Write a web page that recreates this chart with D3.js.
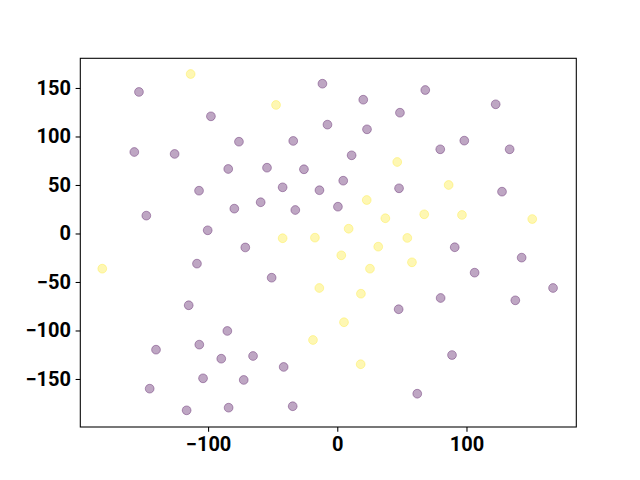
<!DOCTYPE html>
<html><head><meta charset="utf-8">
<script src="https://cdn.jsdelivr.net/npm/d3@7"></script>
<style>body{margin:0;background:#fff}svg{display:block}</style>
</head><body>
<script>
const purpleX = [-153.5,-11.5,-97.8,-7.6,-76.1,-34.1,-157.1,-125.9,-84.4,-54.4,-25.8,-107.0,-42.3,-13.8,-147.8,-79.7,-59.3,-32.5,-100.3,-71.2,20.1,68.1,122.6,48.5,23.0,98.3,79.7,133.4,11.1,4.6,47.8,127.5,0.5,90.9,142.7,106.3,167.0,80.0,137.8,47.5,88.8,61.9,-108.6,-50.8,-115.0,-85.1,-140.3,-106.8,-89.8,-65.2,-41.5,-145.2,-103.9,-72.4,-116.6,-84.1,-34.5];
const purpleY = [145.9,154.4,120.8,112.2,94.6,95.4,84.0,82.0,66.5,67.8,66.2,44.1,47.6,44.6,18.4,25.6,32.2,24.2,3.3,-14.4,137.9,147.9,133.2,124.5,107.4,95.7,86.8,86.8,80.6,54.4,46.6,43.1,27.6,-14.2,-24.9,-40.4,-56.2,-66.5,-68.9,-78.1,-125.3,-165.2,-31.1,-45.6,-74.0,-100.5,-119.8,-114.6,-129.1,-126.3,-137.6,-160.0,-149.3,-151.0,-182.3,-179.6,-178.1];
const yellowX = [-113.5,-47.4,46.4,86.2,22.8,37.2,67.3,96.5,150.9,8.8,54.2,31.7,-42.3,-17.3,3.1,25.3,57.8,-181.9,-13.9,18.3,5.2,-18.8,18.1];
const yellowY = [164.4,132.5,73.7,50.0,34.5,15.7,19.8,19.1,14.9,4.9,-4.6,-13.6,-4.9,-4.3,-22.5,-36.3,-29.7,-36.3,-56.2,-62.1,-91.5,-109.8,-134.8];
const xTicks = [-100,0,100];
const yTicks = [-150,-100,-50,0,50,100,150];

const W=640,H=480;
const m={l:80.3,r:576.3,t:58.3,b:427};
const svg=d3.select("body").append("svg").attr("width",W).attr("height",H);
const x=d3.scaleLinear().domain([-198.9,185.0]).range([m.l,m.r]);
const y=d3.scaleLinear().domain([-199.5,180.6]).range([m.b,m.t]);

const pts=[];
purpleX.forEach((v,i)=>pts.push({x:v,y:purpleY[i],c:"#440154"}));
yellowX.forEach((v,i)=>pts.push({x:v,y:yellowY[i],c:"#fde725"}));

svg.append("g").selectAll("circle").data(pts).enter().append("circle")
  .attr("cx",d=>x(d.x)).attr("cy",d=>y(d.y)).attr("r",4.4)
  .attr("fill",d=>d.c).attr("fill-opacity",0.35)
  .attr("stroke",d=>d.c).attr("stroke-opacity",0.35).attr("stroke-width",1);

const fmt=d=>d<0?"\u2212"+Math.abs(d):String(d);
const ax=svg.append("g").attr("transform",`translate(0,${m.b})`)
  .call(d3.axisBottom(x).tickValues(xTicks).tickFormat(fmt).tickSize(4.7).tickPadding(4.7));
const ay=svg.append("g").attr("transform",`translate(${m.l},0)`)
  .call(d3.axisLeft(y).tickValues(yTicks).tickFormat(fmt).tickSize(4.7).tickPadding(4.7));
[ax,ay].forEach(g=>{
  g.select(".domain").remove();
  g.selectAll(".tick line").attr("stroke","#000").attr("stroke-width",1.07);
  g.selectAll("text").attr("fill","#000").style("font-family","Roboto, 'DejaVu Sans', sans-serif")
   .style("font-size","20px").style("font-weight","bold");
});
svg.append("rect").attr("x",m.l).attr("y",m.t).attr("width",m.r-m.l).attr("height",m.b-m.t)
  .attr("fill","none").attr("stroke","#000").attr("stroke-width",1.07);
</script>
</body></html>
